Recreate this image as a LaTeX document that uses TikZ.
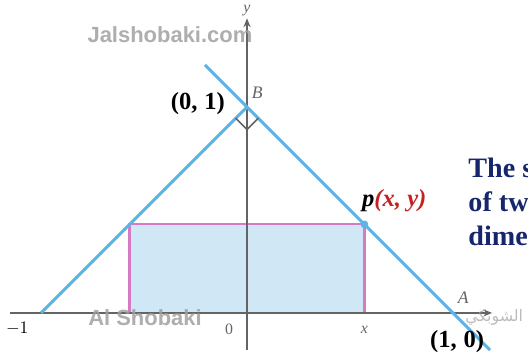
\documentclass[tikz,border=0pt]{standalone}
\usepackage{amsmath,amssymb}
\usepackage{fontspec}
\setmainfont{Liberation Serif}
\newfontfamily\wmfont{Liberation Sans}
\newfontfamily\arabicfont[Script=Arabic]{DejaVu Sans}
\TeXXeTstate=1
\usetikzlibrary{arrows.meta,positioning}
\definecolor{lineblue}{RGB}{95,178,228}
\definecolor{rectfill}{RGB}{208,231,246}
\definecolor{rectpink}{RGB}{214,122,196}
\definecolor{axisgray}{RGB}{100,100,100}
\definecolor{navytext}{RGB}{22,38,108}
\definecolor{pointred}{RGB}{198,32,32}
\definecolor{wmgray}{RGB}{160,160,160}

\begin{document}
\begin{tikzpicture}[x=4.12cm,y=4.12cm,
    every node/.style={font=\fontsize{12}{14}\selectfont},
    axis/.style={axisgray,line width=1.2pt,-{Stealth[length=5pt,width=4pt]}},
    edge/.style={lineblue,line width=1.7pt},
    side/.style={rectpink,line width=1.3pt},
    ticklab/.style={axisgray,font=\fontsize{9}{11}\selectfont\itshape},
    coordlab/.style={font=\bfseries\fontsize{14}{16}\selectfont},
    cuttext/.style={navytext,anchor=base west,font=\bfseries\fontsize{16}{19}\selectfont},
    wm/.style={wmgray,opacity=.85,font=\wmfont\bfseries\fontsize{12.5}{14}\selectfont}]
  \useasboundingbox (-1.199,-0.228) rectangle (1.364,1.519);
  \clip (-1.199,-0.228) rectangle (1.364,1.519);
  % points of the triangle and the rectangle
  \coordinate (O) at (0,0);
  \coordinate (A) at (1,0);
  \coordinate (B) at (0,1);
  \coordinate (C) at (-1,0);
  \coordinate (P) at (0.57,0.43);
  \coordinate (Q) at (-0.57,0.43);
  \coordinate (P0) at (0.57,0);
  \coordinate (Q0) at (-0.57,0);
  \coordinate (xs) at (-1.15,0);
  \coordinate (xe) at (1.19,0);
  \coordinate (ys) at (0,-0.18);
  \coordinate (ye) at (0,1.43);
  \coordinate (top) at (-0.204,1.204);
  \coordinate (bot) at (1.18,-0.18);

  \fill[rectfill] (Q0) rectangle (P);
  \draw[side] (Q0) -- (Q) -- (P) -- (P0);
  \draw[axis] (xs) -- (xe);
  \draw[axis] (ys) -- (ye);
  \draw[edge] (top) -- (bot);
  \draw[edge] (C) -- (B);
  \draw[axisgray,line width=0.9pt] (B) ++(-0.055,-0.055) -- ++(0.055,-0.055) -- ++(0.055,0.055);
  \fill[lineblue] (P) circle (2.2pt);

  % labels
  \node[ticklab] (ylab) at (0,1.47) {y};
  \node[ticklab] (Blab) at (0.05,1.07) {\fontsize{10}{12}\selectfont B};
  \node[ticklab] (Alab) at (1.05,0.075) {\fontsize{10}{12}\selectfont A};
  \node[ticklab] (xlab) at (0.57,-0.08) {x};
  \node[ticklab,font=\fontsize{9}{11}\selectfont] (zero) at (-0.087,-0.078) {0};
  \node[font=\fontsize{10}{12}\selectfont] (mone) at (-1.115,-0.078) {$-1$};
  \node[coordlab] (Bcoord) at (-0.238,1.015) {(0,\;1)};
  \node[coordlab] (Acoord) at (1.02,-0.14) {(1,\;0)};
  \node[coordlab,font=\bfseries\itshape\fontsize{14}{16}\selectfont] (Plab) at (0.715,0.545) {p\textcolor{pointred}{(x, y)}};

  % text cut by the right edge
  \node[cuttext] (t1) at (1.045,0.655) {The s};
  \node[cuttext] (t2) at (1.045,0.49) {of two};
  \node[cuttext] (t3) at (1.045,0.325) {dimen};

  % watermarks
  \node[wm] (wm1) at (-0.374,1.35) {Jalshobaki.com};
  \node[wm] (wm2) at (-0.495,-0.024) {Al Shobaki};
  \node[wmgray,opacity=.7,font=\arabicfont\fontsize{9}{11}\selectfont] (wm3) at (1.2,-0.024) {\beginR الشوبكي\endR};
\end{tikzpicture}
\end{document}
